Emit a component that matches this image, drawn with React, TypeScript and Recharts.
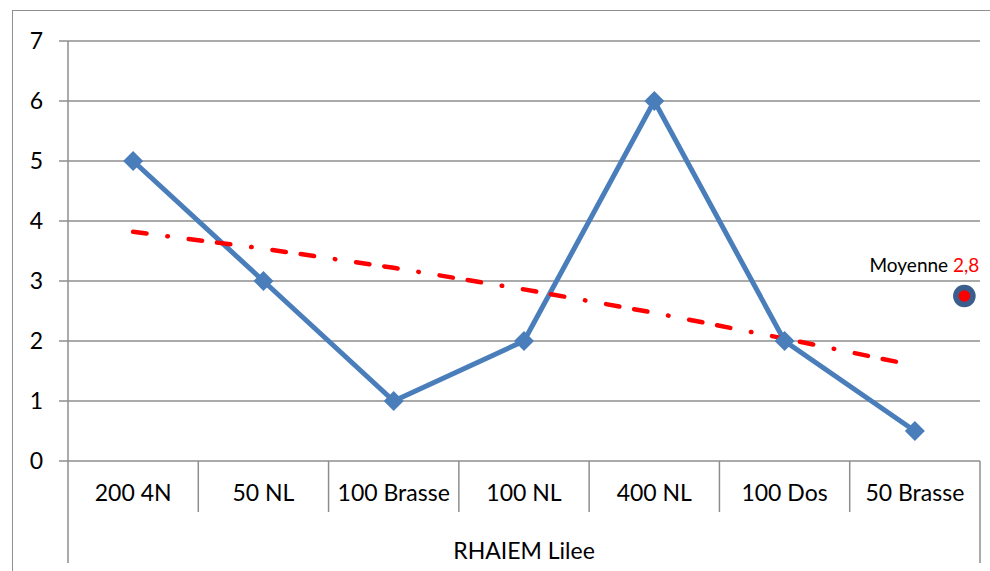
import React from 'react';
import { ComposedChart, Line, XAxis, YAxis, CartesianGrid } from 'recharts';

const categories = ['200 4N', '50 NL', '100 Brasse', '100 NL', '400 NL', '100 Dos', '50 Brasse'];
const results = [5, 3, 1, 2, 6, 2, 0.5];
const trendValues = [3.82, 3.54, 3.22, 2.86, 2.47, 2.04, 1.59];
const yTicks = [0, 1, 2, 3, 4, 5, 6, 7];
const groupLabel = 'RHAIEM Lilee';
const meanPosition = 6.88;
const meanValue = 2.75;
const meanWord = 'Moyenne';
const meanText = '2,8';

const data: any[] = [
  ...categories.map((c, i) => ({ x: i + 0.5, name: c, value: results[i], trend: trendValues[i] })),
  { x: meanPosition, mean: meanValue },
];

const xTicks: number[] = [];
for (let i = 0; i <= categories.length * 2; i++) xTicks.push(i / 2);

const FONT = 'Lato, "Open Sans", sans-serif';
const GRID = '#8E8E8E';
const BLUE = '#4A7EBB';

const XTick = (props: any) => {
  const { x, y, payload } = props;
  const v = payload.value;
  if (Number.isInteger(v)) {
    const outer = v === 0 || v === categories.length;
    return <line x1={x} x2={x} y1={y} y2={y + (outer ? 102 : 51)} stroke={GRID} strokeWidth={1.5} />;
  }
  const idx = Math.floor(v);
  return (
    <text x={x} y={y + 40} textAnchor="middle" fontFamily={FONT} fontSize={23} fill="#000">
      {categories[idx]}
    </text>
  );
};

const Diamond = (p: any) => {
  const { cx, cy, value, index } = p;
  if (cx == null || cy == null || value == null || isNaN(cy)) return <g key={`d${index}`} />;
  const r = 10;
  return (
    <polygon
      key={`d${index}`}
      points={`${cx},${cy - r} ${cx + r},${cy} ${cx},${cy + r} ${cx - r},${cy}`}
      fill={BLUE}
    />
  );
};

const MeanDot = (p: any) => {
  const { cx, cy, value, index } = p;
  if (cx == null || cy == null || value == null || isNaN(cy)) return <g key={`m${index}`} />;
  return (
    <g key={`m${index}`}>
      <circle cx={cx} cy={cy} r={11.3} fill="#3B5E8C" />
      <circle cx={cx} cy={cy} r={5.8} fill="#FF0000" />
      <text x={cx + 15} y={cy - 24} textAnchor="end" fontFamily={FONT} fontSize={19} fill="#000">
        <tspan>{meanWord} </tspan>
        <tspan fill="#FF0000">{meanText}</tspan>
      </text>
    </g>
  );
};

export default function App() {
  return (
    <div style={{ position: 'absolute', left: 0, top: 0, width: 990, height: 571, overflow: 'hidden', background: '#fff' }}>
      <div
        style={{
          position: 'absolute',
          left: 12,
          top: 10,
          width: 1000,
          height: 600,
          borderLeft: '1.5px solid #8F8F8F',
          borderTop: '1.5px solid #8F8F8F',
        }}
      />
      <div style={{ position: 'absolute', left: 0, top: 0 }}>
        <ComposedChart width={990} height={571} data={data} margin={{ top: 41, right: 10, bottom: 8, left: 0 }}>
          <CartesianGrid vertical={false} stroke={GRID} strokeWidth={1.5} />
          <XAxis
            dataKey="x"
            type="number"
            domain={[0, categories.length]}
            ticks={xTicks}
            interval={0}
            tick={<XTick />}
            tickLine={false}
            tickSize={0}
            tickMargin={0}
            axisLine={false}
            height={102}
            label={{ value: groupLabel, position: 'insideBottom', offset: 4, fontFamily: FONT, fontSize: 23, fill: '#000' }}
          />
          <YAxis
            type="number"
            domain={[0, 7]}
            ticks={yTicks}
            interval={0}
            width={68}
            tickSize={9}
            tickMargin={16}
            axisLine={{ stroke: GRID, strokeWidth: 1.5 }}
            tickLine={{ stroke: GRID, strokeWidth: 1.5 }}
            tick={{ fontFamily: FONT, fontSize: 23, fill: '#000' }}
          />
          <Line
            dataKey="value"
            stroke={BLUE}
            strokeWidth={5}
            dot={Diamond}
            activeDot={false}
            isAnimationActive={false}
          />
          <Line
            dataKey="trend"
            stroke="#FF0000"
            strokeWidth={4.5}
            strokeDasharray="13.5 21 0.5 21 13.5 15"
            strokeLinecap="round"
            dot={false}
            activeDot={false}
            isAnimationActive={false}
          />
          <Line
            dataKey="mean"
            stroke="none"
            dot={MeanDot}
            activeDot={false}
            isAnimationActive={false}
          />
        </ComposedChart>
      </div>
    </div>
  );
}
